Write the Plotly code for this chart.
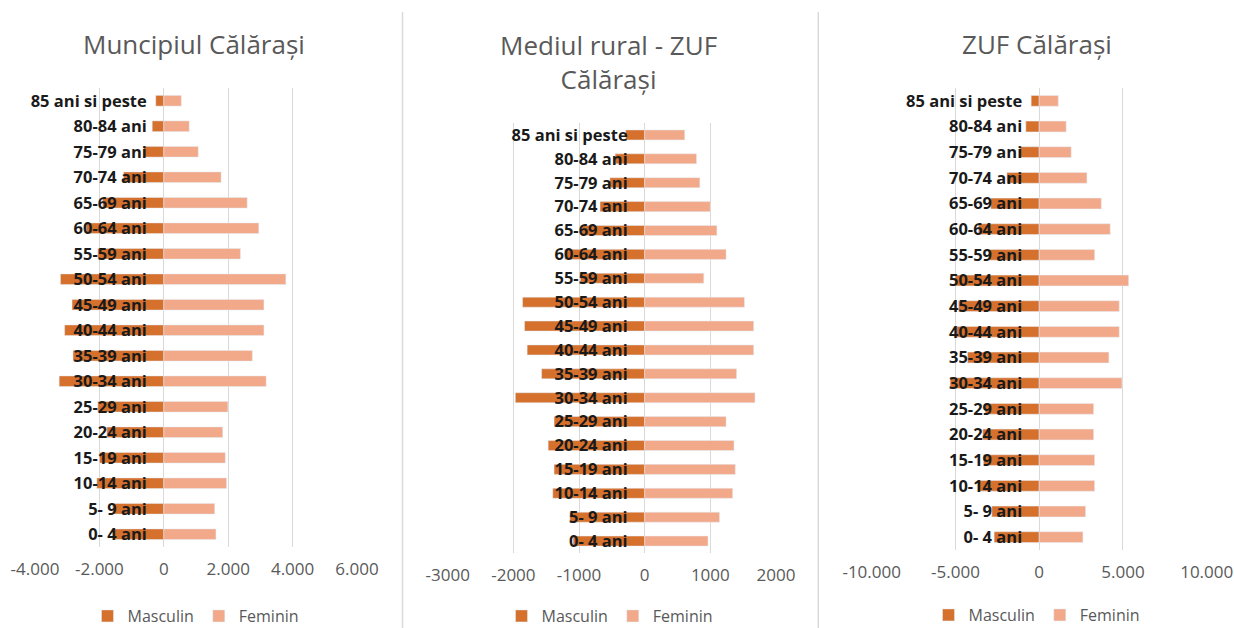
import plotly.graph_objects as go

W, H = 1234, 628

AGE_GROUPS = ['0- 4 ani', '5- 9 ani', '10-14 ani', '15-19 ani', '20-24 ani', '25-29 ani',
              '30-34 ani', '35-39 ani', '40-44 ani', '45-49 ani', '50-54 ani', '55-59 ani',
              '60-64 ani', '65-69 ani', '70-74 ani', '75-79 ani', '80-84 ani', '85 ani si peste']

# Muncipiul Călărași
MUN_M = [-1540, -1590, -2080, -2000, -1770, -2050, -3250, -2820, -3080,
         -2850, -3210, -2050, -2410, -1900, -1250, -620, -360, -250]
MUN_F = [1620, 1580, 1950, 1910, 1830, 1990, 3180, 2750, 3110,
         3110, 3790, 2380, 2950, 2590, 1780, 1070, 790, 545]

# Mediul rural - ZUF Călărași
RUR_M = [-1090, -1140, -1400, -1380, -1470, -1380, -1970, -1570, -1790,
         -1830, -1860, -980, -1220, -960, -680, -530, -450, -290]
RUR_F = [965, 1140, 1340, 1380, 1360, 1240, 1680, 1400, 1660,
         1660, 1520, 900, 1240, 1100, 1000, 840, 790, 610]

# ZUF Călărași
ZUF_M = [-2690, -2830, -3620, -3330, -3370, -3230, -5320, -4280, -4920,
         -4820, -5020, -3030, -3630, -2890, -1930, -1140, -800, -480]
ZUF_F = [2610, 2770, 3310, 3310, 3250, 3250, 4940, 4160, 4780,
         4780, 5340, 3310, 4240, 3710, 2850, 1910, 1610, 1140]

MUN_TICKS = [-4000, -2000, 0, 2000, 4000, 6000]
MUN_TICKTEXT = ['-4.000', '-2.000', '0', '2.000', '4.000', '6.000']
RUR_TICKS = [-3000, -2000, -1000, 0, 1000, 2000]
RUR_TICKTEXT = ['-3000', '-2000', '-1000', '0', '1000', '2000']
ZUF_TICKS = [-10000, -5000, 0, 5000, 10000]
ZUF_TICKTEXT = ['-10.000', '-5.000', '0', '5.000', '10.000']

TITLES = ['Muncipiul Călărași', 'Mediul rural - ZUF<br>Călărași', 'ZUF Călărași']

COLORS = {
    'masc': '#D5712D',
    'fem': '#F2A98A',
    'grid': '#D9D9D9',
    'tick': '#595959',
    'label': '#1A1A1A',
}
FONT = 'Open Sans'

# layout in pixels: (x0, x1, y_top, y_bottom), title (x, y), legend (x, y)
PANELS = [
    dict(m=MUN_M, f=MUN_F, ticks=MUN_TICKS, text=MUN_TICKTEXT, box=(35, 357, 88, 547),
         title=(194, 44), legend=(196, 616)),
    dict(m=RUR_M, f=RUR_F, ticks=RUR_TICKS, text=RUR_TICKTEXT, box=(447.7, 776, 123, 553),
         title=(608, 62), legend=(610, 616)),
    dict(m=ZUF_M, f=ZUF_F, ticks=ZUF_TICKS, text=ZUF_TICKTEXT, box=(871.7, 1206.7, 88, 550),
         title=(1037, 44), legend=(1037, 615)),
]

fig = go.Figure()
layout = {}
for i, p in enumerate(PANELS, start=1):
    sfx = '' if i == 1 else str(i)
    leg = 'legend' + sfx
    x0, x1, yt, yb = p['box']
    r0, r1 = p['ticks'][0], p['ticks'][-1]
    dom_x = [x0 / W, x1 / W]
    zero_pos = (x0 + (0 - r0) / (r1 - r0) * (x1 - x0)) / W

    fig.add_trace(go.Bar(y=AGE_GROUPS, x=p['m'], orientation='h', name='Masculin',
                         marker_color=COLORS['masc'], xaxis='x' + sfx, yaxis='y' + sfx,
                         legend=leg))
    fig.add_trace(go.Bar(y=AGE_GROUPS, x=p['f'], orientation='h', name='Feminin',
                         marker_color=COLORS['fem'], xaxis='x' + sfx, yaxis='y' + sfx,
                         legend=leg))

    layout['xaxis' + sfx] = dict(
        domain=dom_x, range=[r0, r1], anchor='y' + sfx, automargin=False,
        tickvals=p['ticks'], ticktext=p['text'],
        showgrid=True, gridcolor=COLORS['grid'], gridwidth=1,
        zeroline=False, showline=False, ticks='', ticklabelstandoff=10,
        tickfont=dict(family=FONT, size=17, color=COLORS['tick']),
    )
    layout['yaxis' + sfx] = dict(
        domain=[1 - yb / H, 1 - yt / H], anchor='free', position=zero_pos,
        automargin=False, type='category', showgrid=False, zeroline=False, showline=False,
        ticks='', ticklabelstandoff=17, layer='above traces',
        tickfont=dict(family=FONT, size=16.5, color=COLORS['label'], weight='bold'),
    )
    layout[leg] = dict(
        orientation='h', x=p['legend'][0] / W, y=1 - p['legend'][1] / H,
        xanchor='center', yanchor='middle', traceorder='normal',
        font=dict(family=FONT, size=16, color=COLORS['tick']),
        bgcolor='rgba(0,0,0,0)',
    )

annotations = []
for p, t in zip(PANELS, TITLES):
    annotations.append(dict(
        text=t, x=p['title'][0] / W, y=1 - p['title'][1] / H, xref='paper', yref='paper',
        xanchor='center', yanchor='middle', showarrow=False,
        font=dict(family=FONT, size=26, color=COLORS['tick']),
    ))

shapes = [
    dict(type='line', xref='paper', yref='paper', x0=xs / W, x1=xs / W, y0=0, y1=1 - 12 / H,
         line=dict(color=COLORS['grid'], width=1.5))
    for xs in (402.5, 818.3)
]

fig.update_layout(
    width=W, height=H,
    margin=dict(l=0, r=0, t=0, b=0, autoexpand=False),
    paper_bgcolor='white', plot_bgcolor='white',
    barmode='relative', bargap=0.58,
    annotations=annotations, shapes=shapes,
    font=dict(family=FONT),
    **layout,
)

# the page body has a default 8px margin; drop it so the figure fills the window
fig.write_html('out.html', config={'displayModeBar': False},
               post_script="document.body.style.margin = '0';")
